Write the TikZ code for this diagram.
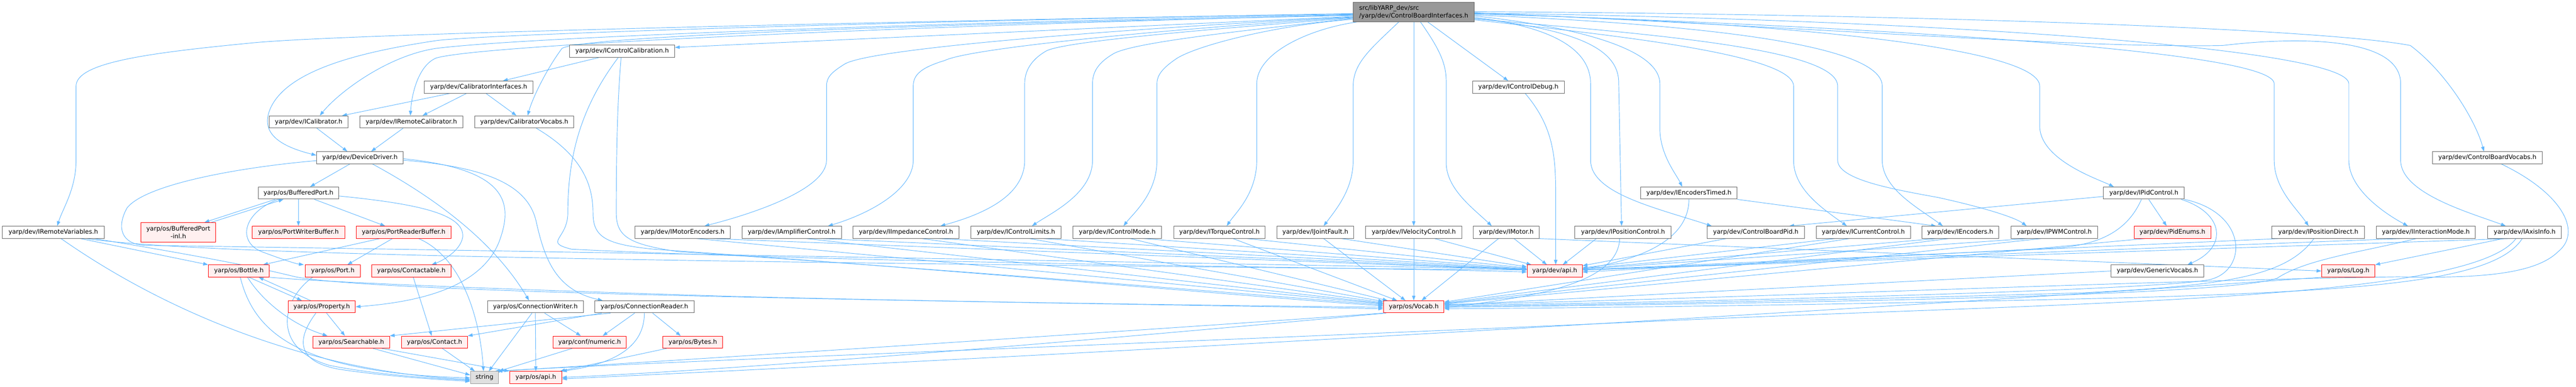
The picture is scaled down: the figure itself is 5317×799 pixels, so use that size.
\documentclass[tikz,border=0pt]{standalone}
\usepackage{fontspec}
\setmainfont{DejaVu Sans}
\usetikzlibrary{arrows.meta}
\definecolor{eb}{HTML}{63B8FF}
\definecolor{bgray}{HTML}{666666}
\definecolor{rfill}{HTML}{FFF0F0}
\definecolor{topfill}{HTML}{999999}
\definecolor{extfill}{HTML}{E0E0E0}
\definecolor{extdraw}{HTML}{999999}
\pgfdeclarelayer{bg}
\pgfsetlayers{bg,main}
\newcommand{\dxf}{\fontsize{12.8}{15.5}\selectfont}
\begin{document}
\begin{tikzpicture}[x=1pt,y=-1pt,
  dxbox/.style={draw=bgray,fill=white,line width=1pt,minimum height=25pt,inner xsep=2pt,inner ysep=0pt,font=\dxf,text=black},
  dxred/.style={dxbox,draw=red,fill=rfill},
  dxext/.style={dxbox,draw=extdraw,fill=extfill},
  edg/.style={draw=eb,line width=1pt,-{Triangle[length=10pt,width=7pt]}}]
\useasboundingbox (0,0) rectangle (5317,799);
% nodes
\node[dxbox,minimum width=250pt,minimum height=40pt,fill=topfill,align=left] (cbi) at (2918,25) {src/libYARP\_dev/src\\/yarp/dev/ControlBoardInterfaces.h};
\node[dxbox,minimum width=217pt] (icc) at (1284,106) {yarp/dev/IControlCalibration.h};
\node[dxbox,minimum width=224pt] (cai) at (988,180) {yarp/dev/CalibratorInterfaces.h};
\node[dxbox,minimum width=189pt] (icd) at (3134,180) {yarp/dev/IControlDebug.h};
\node[dxbox,minimum width=162pt] (ical) at (637,252) {yarp/dev/ICalibrator.h};
\node[dxbox,minimum width=213pt] (irc) at (849,252) {yarp/dev/IRemoteCalibrator.h};
\node[dxbox,minimum width=205pt] (cav) at (1082,252) {yarp/dev/CalibratorVocabs.h};
\node[dxbox,minimum width=179pt] (dd) at (743,326) {yarp/dev/DeviceDriver.h};
\node[dxbox,minimum width=227pt] (cbv) at (5134,326) {yarp/dev/ControlBoardVocabs.h};
\node[dxbox,minimum width=166pt] (bp) at (616,399) {yarp/os/BufferedPort.h};
\node[dxbox,minimum width=199pt] (iet) at (3486,399) {yarp/dev/IEncodersTimed.h};
\node[dxbox,minimum width=167pt] (ipid) at (4425,399) {yarp/dev/IPidControl.h};
\node[dxbox,minimum width=211pt] (irv) at (110,480) {yarp/dev/IRemoteVariables.h};
\node[dxred,minimum width=155pt,minimum height=40pt,align=center] (bpi) at (368,480) {yarp/os/BufferedPort\\-inl.h};
\node[dxred,minimum width=191pt] (pwb) at (616,480) {yarp/os/PortWriterBuffer.h};
\node[dxred,minimum width=196pt] (prb) at (833,480) {yarp/os/PortReaderBuffer.h};
\node[dxbox,minimum width=196pt] (ime) at (1409,480) {yarp/dev/IMotorEncoders.h};
\node[dxbox,minimum width=205pt] (iamp) at (1634,480) {yarp/dev/IAmplifierControl.h};
\node[dxbox,minimum width=219pt] (iimp) at (1870,480) {yarp/dev/IImpedanceControl.h};
\node[dxbox,minimum width=186pt] (icl) at (2097,480) {yarp/dev/IControlLimits.h};
\node[dxbox,minimum width=183pt] (icm) at (2306,480) {yarp/dev/IControlMode.h};
\node[dxbox,minimum width=189pt] (itc) at (2517,480) {yarp/dev/ITorqueControl.h};
\node[dxbox,minimum width=159pt] (ijf) at (2715,480) {yarp/dev/IJointFault.h};
\node[dxbox,minimum width=199pt] (ivc) at (2918,480) {yarp/dev/IVelocityControl.h};
\node[dxbox,minimum width=136pt] (imot) at (3109,480) {yarp/dev/IMotor.h};
\node[dxbox,minimum width=199pt] (ipc) at (3350,480) {yarp/dev/IPositionControl.h};
\node[dxbox,minimum width=200pt] (cbp) at (3624,480) {yarp/dev/ControlBoardPid.h};
\node[dxbox,minimum width=195pt] (icur) at (3846,480) {yarp/dev/ICurrentControl.h};
\node[dxbox,minimum width=159pt] (ienc) at (4046,480) {yarp/dev/IEncoders.h};
\node[dxbox,minimum width=179pt] (ipwm) at (4240,480) {yarp/dev/IPWMControl.h};
\node[dxred,minimum width=158pt] (pe) at (4484,480) {yarp/dev/PidEnums.h};
\node[dxbox,minimum width=191pt] (ipd) at (4785,480) {yarp/dev/IPositionDirect.h};
\node[dxbox,minimum width=205pt] (iim) at (5007,480) {yarp/dev/IInteractionMode.h};
\node[dxbox,minimum width=152pt] (iax) at (5211,480) {yarp/dev/IAxisInfo.h};
\node[dxred,minimum width=126pt] (bot) at (493,560) {yarp/os/Bottle.h};
\node[dxred,minimum width=113pt] (port) at (687,560) {yarp/os/Port.h};
\node[dxred,minimum width=164pt] (ctb) at (849,560) {yarp/os/Contactable.h};
\node[dxred,minimum width=114pt] (dapi) at (3209,560) {yarp/dev/api.h};
\node[dxbox,minimum width=191pt] (gv) at (4453,560) {yarp/dev/GenericVocabs.h};
\node[dxred,minimum width=110pt] (log) at (4847,560) {yarp/os/Log.h};
\node[dxred,minimum width=139pt] (prop) at (664,634) {yarp/os/Property.h};
\node[dxbox,minimum width=198pt] (cw) at (1105,634) {yarp/os/ConnectionWriter.h};
\node[dxbox,minimum width=205pt] (cr) at (1330,634) {yarp/os/ConnectionReader.h};
\node[dxred,minimum width=125pt] (voc) at (2918,634) {yarp/os/Vocab.h};
\node[dxred,minimum width=158pt] (srch) at (725,707) {yarp/os/Searchable.h};
\node[dxred,minimum width=136pt] (ct) at (897,707) {yarp/os/Contact.h};
\node[dxred,minimum width=152pt] (num) at (1217,707) {yarp/conf/numeric.h};
\node[dxred,minimum width=123pt] (byt) at (1430,707) {yarp/os/Bytes.h};
\node[dxext,minimum width=58pt] (str) at (1000,780) {string};
\node[dxred,minimum width=107pt] (oapi) at (1106,780) {yarp/os/api.h};
\begin{pgfonlayer}{bg}
\fill[white] (0,0) rectangle (5317,799);
% ---- from top node, left side
\draw[edg] ([yshift=-3pt]cbi.west) .. controls (1800,45) and (700,70) .. (517,89) .. controls (300,110) and (157,130) .. (157,178) -- (157,331) .. controls (157,390) and (130,430) .. ([xshift=8pt]irv.north);
\draw[edg] ([yshift=-5pt]cbi.west) .. controls (2000,45) and (1100,75) .. (900,100) .. controls (800,115) and (700,190) .. ([xshift=23pt]ical.north);
\draw[edg] ([yshift=-4pt]cbi.west) .. controls (2000,40) and (1000,70) .. (900,84) .. controls (760,105) and (600,140) .. (560,220) .. controls (530,280) and (590,305) .. ([yshift=5pt]dd.west);
\draw[edg] ([yshift=-6pt]cbi.west) .. controls (2000,50) and (1000,90) .. (900,120) .. controls (865,135) and (850,190) .. ([xshift=-2pt]irc.north);
\draw[edg] ([yshift=-7pt]cbi.west) .. controls (1900,50) and (1200,75) .. (1160,100) .. controls (1130,140) and (1100,200) .. ([xshift=7pt]cav.north);
\draw[edg] ([yshift=-9pt]cbi.west) -- ([yshift=8pt]icc.east);
\draw[edg] ([yshift=-10pt]cbi.west) .. controls (2300,60) and (1800,100) .. (1744,132) .. controls (1715,150) and (1706,160) .. (1706,178) -- (1706,331) .. controls (1706,390) and (1560,440) .. ([xshift=45pt]ime.north);
\draw[edg] ([yshift=-11pt]cbi.west) .. controls (2400,60) and (2000,100) .. (1950,125) .. controls (1900,140) and (1885,155) .. (1885,178) -- (1885,331) .. controls (1885,390) and (1800,440) .. ([xshift=75pt]iamp.north);
\draw[edg] ([yshift=-12pt]cbi.west) .. controls (2500,60) and (2200,85) .. (2160,105) .. controls (2125,125) and (2115,150) .. (2115,173) -- (2115,331) .. controls (2115,400) and (2040,440) .. ([xshift=71pt]iimp.north);
\draw[edg] ([yshift=-13pt]cbi.west) .. controls (2600,60) and (2350,85) .. (2300,110) .. controls (2265,130) and (2255,150) .. (2255,173) -- (2255,331) .. controls (2255,400) and (2170,440) .. ([xshift=33pt]icl.north);
\draw[edg] ([yshift=-15pt]cbi.west) .. controls (2650,50) and (2480,90) .. (2430,120) .. controls (2400,140) and (2388,155) .. (2388,173) -- (2388,331) .. controls (2388,400) and (2340,440) .. ([xshift=13pt]icm.north);
\draw[edg] ([xshift=8pt]cbi.south west) .. controls (2700,60) and (2594,110) .. (2594,173) -- (2594,331) .. controls (2594,400) and (2550,440) .. ([xshift=15pt]itc.north);
\draw[edg] ([xshift=-31pt]cbi.south) .. controls (2830,100) and (2793,130) .. (2793,178) -- (2793,331) .. controls (2793,390) and (2760,430) .. ([xshift=17pt]ijf.north);
\draw[edg] (cbi.south) -- (ivc.north);
\draw[edg] ([xshift=14pt]cbi.south) .. controls (2970,100) and (2985,130) .. (2985,168) -- (2985,336) .. controls (2985,390) and (3040,430) .. ([xshift=-30pt]imot.north);
\draw[edg] ([xshift=29pt]cbi.south) -- ([xshift=-21pt]icd.north);
% ---- from top node, right side
\draw[edg] ([yshift=-13pt]cbi.east) .. controls (3250,60) and (3341,100) .. (3341,170) -- ([xshift=-3pt]ipc.north);
\draw[edg] ([yshift=-11pt]cbi.east) .. controls (3200,55) and (3283,100) .. (3283,173) -- (3283,331) .. controls (3283,400) and (3420,430) .. ([xshift=-91pt]cbp.north);
\draw[edg] ([yshift=-8pt]cbi.east) .. controls (3250,55) and (3426,100) .. (3426,173) -- (3426,265) .. controls (3426,320) and (3460,360) .. ([xshift=-14pt]iet.north);
\draw[edg] ([yshift=-16pt]cbi.east) .. controls (3300,70) and (3702,110) .. (3702,178) -- (3702,331) .. controls (3702,390) and (3760,430) .. ([xshift=-34pt]icur.north);
\draw[edg] ([yshift=-14pt]cbi.east) .. controls (3400,70) and (3793,100) .. (3793,178) -- (3793,331) .. controls (3793,370) and (3900,390) .. (4000,408) .. controls (4100,430) and (4160,450) .. ([xshift=-57pt]ipwm.north);
\draw[edg] ([yshift=-6pt]cbi.east) .. controls (3500,50) and (3885,90) .. (3885,178) -- (3885,331) .. controls (3885,390) and (3960,430) .. ([xshift=-36pt]ienc.north);
\draw[edg] ([yshift=-4pt]cbi.east) .. controls (3700,45) and (4210,100) .. (4210,178) -- (4210,260) .. controls (4210,330) and (4330,370) .. ([xshift=-62pt]ipid.north);
\draw[edg] ([yshift=-3pt]cbi.east) .. controls (4000,60) and (4694,110) .. (4694,173) -- (4694,331) .. controls (4694,390) and (4740,430) .. ([xshift=-20pt]ipd.north);
\draw[edg] ([yshift=-2pt]cbi.east) .. controls (4000,40) and (4848,100) .. (4848,173) -- (4848,331) .. controls (4848,390) and (4920,440) .. ([xshift=-37pt]iim.north);
\draw[edg] ([yshift=-1pt]cbi.east) .. controls (3800,60) and (4300,100) .. (4588,94) .. controls (4720,78) and (4955,70) .. (4955,173) -- (4955,331) .. controls (4955,400) and (5100,440) .. ([xshift=-39pt]iax.north);
\draw[edg] ([yshift=1pt]cbi.east) .. controls (4000,30) and (4800,60) .. (4975,94) .. controls (5050,150) and (5110,250) .. ([xshift=-7pt]cbv.north);
% ---- calibration cluster
\draw[edg] ([xshift=-48pt]icc.south) -- ([xshift=50pt]cai.north);
\draw[edg] ([xshift=-8pt]icc.south) .. controls (1200,220) and (1172,320) .. (1172,440) .. controls (1172,495) and (1120,500) .. (1180,515) .. controls (1800,545) and (2800,552) .. ([yshift=-2pt]dapi.west);
\draw[edg] ([xshift=-2pt]icc.south) .. controls (1275,200) and (1272,300) .. (1272,440) .. controls (1272,490) and (1300,505) .. (1400,520) .. controls (2000,560) and (2600,610) .. ([yshift=4pt]voc.west);
\draw[edg] ([xshift=25pt]cav.south) .. controls (1200,320) and (1224,380) .. (1224,440) .. controls (1224,490) and (1250,505) .. (1350,515) .. controls (2000,560) and (2600,615) .. ([yshift=2pt]voc.west);
\draw[edg] ([xshift=-59pt]cai.south) -- ([xshift=69pt]ical.north);
\draw[edg] ([xshift=-25pt]cai.south) -- ([xshift=23pt]irc.north);
\draw[edg] ([xshift=15pt]cai.south) -- ([xshift=-16pt]cav.north);
\draw[edg] ([xshift=17pt]ical.south) -- ([xshift=-26pt]dd.north);
\draw[edg] ([xshift=-17pt]irc.south) -- ([xshift=23pt]dd.north);
% ---- DeviceDriver
\draw[edg] ([xshift=-21pt]dd.south) -- ([xshift=24pt]bp.north);
\draw[edg] ([xshift=26pt]dd.south) .. controls (900,410) and (1020,500) .. ([xshift=-13pt]cw.north);
\draw[edg] ([yshift=-2pt]dd.east) .. controls (1050,350) and (1060,420) .. (1030,500) .. controls (990,600) and (850,625) .. (prop.east);
\draw[edg] ([yshift=-5pt]dd.east) .. controls (1000,345) and (1090,380) .. (1107,459) .. controls (1125,540) and (1150,600) .. ([xshift=-86pt]cr.north);
\draw[edg] ([yshift=-6pt]dd.west) .. controls (500,345) and (300,380) .. (262,430) .. controls (240,470) and (250,505) .. (300,507) .. controls (1200,520) and (2500,545) .. ([yshift=4pt]dapi.west);
% ---- BufferedPort cluster
\draw[edg] ([xshift=-48pt]bp.south) -- ([xshift=54pt]bpi.north);
\draw[edg] ([xshift=68pt]bpi.north) -- ([xshift=-31pt]bp.south);
\draw[edg] (bp.south) -- (pwb.north);
\draw[edg] ([xshift=33pt]bp.south) -- ([xshift=-38pt]prb.north);
\draw[edg] ([xshift=-42pt]bp.south) .. controls (500,440) and (490,500) .. (540,520) .. controls (580,535) and (610,545) .. ([xshift=-60pt]port.north);
\draw[edg] ([yshift=-6pt]bp.east) .. controls (850,420) and (960,440) .. (955,490) .. controls (950,520) and (910,540) .. ([xshift=42pt]ctb.north);
\draw[edg] ([xshift=-49pt]prb.south) -- ([xshift=50pt]bot.north);
\draw[edg] ([xshift=-23pt]prb.south) -- ([xshift=30pt]port.north);
\draw[edg] ([xshift=31pt]prb.south) .. controls (950,530) and (990,650) .. ([xshift=-2pt]str.north);
\draw[edg] ([xshift=4pt]ctb.south) -- ([xshift=-6pt]ct.north);
% ---- Bottle / Property / Searchable
\draw[edg] ([xshift=21pt]bot.south) -- ([xshift=-41pt]prop.north);
\draw[edg] ([xshift=-23pt]prop.north) -- ([xshift=41pt]bot.south);
\draw[edg] ([xshift=18pt]bot.south) .. controls (540,620) and (600,670) .. ([xshift=-49pt]srch.north);
\draw[edg] ([xshift=3pt]bot.south) .. controls (525,690) and (620,770) .. ([yshift=-1pt]str.west);
\draw[edg] (bot.south east) .. controls (700,585) and (1100,600) .. (1500,612) .. controls (2000,625) and (2600,632) .. ([yshift=-1pt]voc.west);
\draw[edg] ([xshift=56pt]irv.south) -- (bot.north west);
\draw[edg] ([xshift=16pt]irv.south) .. controls (350,650) and (650,770) .. ([yshift=-4pt]str.west);
\draw[edg] ([xshift=68pt]irv.south) .. controls (400,525) and (1200,540) .. ([yshift=2pt]dapi.west);
\draw[edg] ([xshift=85pt]irv.south) .. controls (480,540) and (560,560) .. (610,572) .. controls (800,610) and (2200,625) .. ([yshift=-4pt]voc.west);
\draw[edg] ([xshift=-42pt]port.south) .. controls (580,620) and (560,720) .. (680,755) .. controls (780,775) and (900,782) .. ([yshift=-6pt]str.west);
\draw[edg] ([xshift=10pt]prop.south) -- ([xshift=-13pt]srch.north);
\draw[edg] ([xshift=-12pt]prop.south) .. controls (620,690) and (600,745) .. (700,763) .. controls (800,778) and (900,784) .. ([yshift=-8pt]str.west);
\draw[edg] ([xshift=45pt]srch.south) -- ([yshift=5pt]str.west);
\draw[edg] ([xshift=63pt]srch.south) -- ([xshift=-55pt]oapi.north);
\draw[edg] ([xshift=16pt]ct.south) -- ([xshift=-20pt]str.north);
% ---- Connection reader / writer
\draw[edg] ([xshift=-7pt]cw.south) -- ([xshift=9pt]str.north);
\draw[edg] (cw.south) -- (oapi.north);
\draw[edg] ([xshift=19pt]cw.south) -- ([xshift=-18pt]num.north);
\draw[edg] ([xshift=-70pt]cr.south) -- (srch.north east);
\draw[edg] ([xshift=-88pt]cr.south) -- (ct.north east);
\draw[edg] ([xshift=-20pt]cr.south) -- ([xshift=27pt]num.north);
\draw[edg] (cr.south) .. controls (1330,710) and (1280,750) .. (oapi.north east);
\draw[edg] ([xshift=17pt]cr.south) -- ([xshift=-25pt]byt.north);
\draw[edg] ([xshift=-36pt]num.south) -- (str.north east);
\draw[edg] ([xshift=-54pt]byt.south) -- ([xshift=-4pt]oapi.north east);
% ---- Vocab / Log to bottom
\draw[edg] (voc.south west) .. controls (2400,680) and (1400,745) .. ([xshift=-3pt]str.north east);
\draw[edg] ([xshift=6pt]voc.south west) .. controls (2400,690) and (1600,760) .. (oapi.east);
\draw[edg] (log.south west) .. controls (4000,630) and (2500,720) .. ([yshift=-3pt]oapi.east);
% ---- row of interfaces to dev/api.h and os/Vocab.h
\draw[edg] ([xshift=59pt]ime.south) -- (dapi);
\draw[edg] ([xshift=29pt]ime.south) -- (voc);
\draw[edg] ([xshift=61pt]iamp.south) -- (dapi);
\draw[edg] ([xshift=31pt]iamp.south) -- (voc);
\draw[edg] ([xshift=66pt]iimp.south) -- (dapi);
\draw[edg] ([xshift=33pt]iimp.south) -- (voc);
\draw[edg] ([xshift=56pt]icl.south) -- (dapi);
\draw[edg] ([xshift=28pt]icl.south) -- (voc);
\draw[edg] ([xshift=55pt]icm.south) -- (dapi);
\draw[edg] ([xshift=27pt]icm.south) -- (voc);
\draw[edg] ([xshift=57pt]itc.south) -- (dapi);
\draw[edg] ([xshift=28pt]itc.south) -- (voc);
\draw[edg] ([xshift=54pt]ijf.south) -- (dapi);
\draw[edg] ([xshift=17pt]ijf.south) -- (voc);
\draw[edg] ([xshift=43pt]ivc.south) -- (dapi);
\draw[edg] (ivc.south) -- (voc.north);
\draw[edg] ([xshift=16pt]imot.south) -- (dapi);
\draw[edg] ([xshift=-16pt]imot.south) -- (voc);
\draw[edg] (imot.south east) -- (log.west);
\draw[edg] ([xshift=-55pt]ipc.south) -- (dapi);
\draw[edg] ([xshift=-7pt]ipc.south) .. controls (3340,590) and (3150,615) .. ([yshift=-2pt]voc.east);
\draw[edg] ([xshift=-61pt]cbp.south) -- (dapi);
\draw[edg] ([xshift=-58pt]icur.south) -- (dapi);
\draw[edg] ([xshift=-29pt]icur.south) -- (voc);
\draw[edg] ([xshift=-48pt]ienc.south) -- (dapi);
\draw[edg] ([xshift=-24pt]ienc.south) -- (voc);
\draw[edg] ([xshift=-54pt]ipwm.south) -- (dapi);
\draw[edg] ([xshift=-27pt]ipwm.south) -- (voc);
\draw[edg] ([xshift=-80pt]ipd.south) -- (dapi);
\draw[edg] ([xshift=-9pt]ipd.south) .. controls (4720,570) and (4600,590) .. (4300,605) .. controls (3800,620) and (3300,630) .. ([yshift=1pt]voc.east);
\draw[edg] ([xshift=-50pt]iim.south) -- (dapi);
\draw[edg] ([xshift=-20pt]iim.south) .. controls (4880,520) and (4760,535) .. (4700,575) .. controls (4600,610) and (3800,625) .. ([yshift=-1pt]voc.east);
\draw[edg] ([xshift=-30pt]iax.south) -- (dapi);
\draw[edg] ([xshift=-5pt]iax.south) .. controls (5150,580) and (4900,600) .. (4400,615) .. controls (3800,630) and (3300,636) .. ([yshift=-4pt]voc.east);
\draw[edg] ([xshift=-44pt]iax.south) -- (log.north east);
\draw[edg] ([xshift=-18pt]iax.south) .. controls (5100,620) and (4300,625) .. (3500,660) .. controls (2500,705) and (1400,745) .. ([xshift=-8pt]str.north east);
% ---- encoders / debug / pid
\draw[edg] (iet.south) .. controls (3486,480) and (3420,530) .. ([yshift=4pt]dapi.east);
\draw[edg] (iet.south east) -- ([xshift=-50pt]ienc.north);
\draw[edg] ([xshift=14pt]icd.south) .. controls (3205,260) and (3211,320) .. (3211,400) -- ([xshift=2pt]dapi.north);
\draw[edg] ([yshift=-7pt]ipid.west) -- ([xshift=69pt]cbp.north);
\draw[edg] ([xshift=10pt]ipid.south) -- ([xshift=-12pt]pe.north);
\draw[edg] ([xshift=77pt]ipid.south) .. controls (4590,440) and (4600,510) .. ([xshift=62pt]gv.north);
\draw[edg] (ipid.south east) .. controls (4640,440) and (4640,560) .. (4560,578) .. controls (4450,600) and (3500,625) .. ([yshift=3pt]voc.east);
\draw[edg] ([xshift=-5pt]ipid.south) .. controls (4390,480) and (4330,505) .. (4250,512) .. controls (3900,530) and (3500,550) .. ([yshift=-2pt]dapi.east);
\draw[edg] ([xshift=-57pt]pe.south) -- (voc);
\draw[edg] (gv.west) -- (voc);
\draw[edg] ([xshift=29pt]cbv.south) .. controls (5290,400) and (5330,480) .. (5280,520) .. controls (5230,570) and (5100,575) .. (4950,572) .. controls (4400,580) and (3500,620) .. ([yshift=5pt]voc.east);
\end{pgfonlayer}
\end{tikzpicture}
\end{document}
